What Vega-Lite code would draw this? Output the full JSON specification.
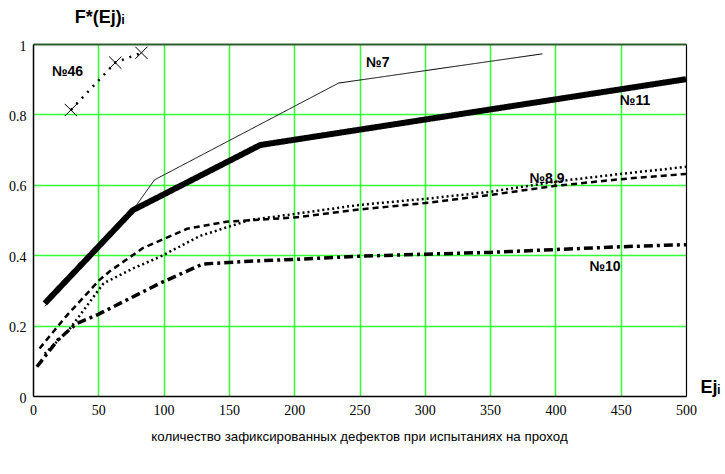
{
  "$schema": "https://vega.github.io/schema/vega-lite/v6.json",
  "width": 653,
  "height": 352,
  "autosize": "none",
  "padding": {"left": 33, "top": 44, "right": 39, "bottom": 78},
  "background": "white",
  "config": {"view": {"stroke": null}, "axis": {"labelFont": "Liberation Serif", "labelFontSize": 14, "labelColor": "black"}},
  "title": {
    "text": "количество зафиксированных дефектов при испытаниях на проход",
    "orient": "bottom",
    "anchor": "middle",
    "frame": "group",
    "offset": 13,
    "font": "Liberation Sans",
    "fontSize": 13.3,
    "fontWeight": "normal",
    "color": "black"
  },
  "datasets": {
    "curves": [
      {"series": "11", "x": 9, "y": 0.263},
      {"series": "11", "x": 76.5, "y": 0.528},
      {"series": "11", "x": 174, "y": 0.713},
      {"series": "11", "x": 500, "y": 0.9},
      {"series": "7", "x": 9, "y": 0.255},
      {"series": "7", "x": 76.5, "y": 0.528},
      {"series": "7", "x": 93, "y": 0.614},
      {"series": "7", "x": 234, "y": 0.889},
      {"series": "7", "x": 390, "y": 0.972},
      {"series": "8", "x": 5, "y": 0.135},
      {"series": "8", "x": 25, "y": 0.225},
      {"series": "8", "x": 51, "y": 0.33},
      {"series": "8", "x": 59, "y": 0.355},
      {"series": "8", "x": 84, "y": 0.42},
      {"series": "8", "x": 118, "y": 0.475},
      {"series": "8", "x": 148, "y": 0.495},
      {"series": "8", "x": 200, "y": 0.507},
      {"series": "8", "x": 250, "y": 0.53},
      {"series": "8", "x": 300, "y": 0.548},
      {"series": "8", "x": 350, "y": 0.571},
      {"series": "8", "x": 400, "y": 0.597},
      {"series": "8", "x": 450, "y": 0.616},
      {"series": "8", "x": 500, "y": 0.631},
      {"series": "9", "x": 9, "y": 0.12},
      {"series": "9", "x": 28, "y": 0.19},
      {"series": "9", "x": 54, "y": 0.32},
      {"series": "9", "x": 77, "y": 0.363},
      {"series": "9", "x": 97, "y": 0.395},
      {"series": "9", "x": 128, "y": 0.455},
      {"series": "9", "x": 166, "y": 0.5},
      {"series": "9", "x": 200, "y": 0.517},
      {"series": "9", "x": 250, "y": 0.543},
      {"series": "9", "x": 300, "y": 0.56},
      {"series": "9", "x": 350, "y": 0.58},
      {"series": "9", "x": 400, "y": 0.609},
      {"series": "9", "x": 450, "y": 0.631},
      {"series": "9", "x": 500, "y": 0.651},
      {"series": "10", "x": 3, "y": 0.083},
      {"series": "10", "x": 19, "y": 0.159},
      {"series": "10", "x": 33, "y": 0.205},
      {"series": "10", "x": 50, "y": 0.232},
      {"series": "10", "x": 97, "y": 0.32},
      {"series": "10", "x": 130, "y": 0.375},
      {"series": "10", "x": 166, "y": 0.383},
      {"series": "10", "x": 200, "y": 0.388},
      {"series": "10", "x": 250, "y": 0.397},
      {"series": "10", "x": 300, "y": 0.403},
      {"series": "10", "x": 350, "y": 0.408},
      {"series": "10", "x": 400, "y": 0.416},
      {"series": "10", "x": 450, "y": 0.424},
      {"series": "10", "x": 500, "y": 0.43},
      {"series": "46", "x": 29, "y": 0.8125},
      {"series": "46", "x": 63, "y": 0.947},
      {"series": "46", "x": 83, "y": 0.975}
    ],
    "labels": [
      {"label": "№46", "x": 26.4, "y": 0.92},
      {"label": "№7", "x": 264, "y": 0.947},
      {"label": "№11", "x": 461, "y": 0.838},
      {"label": "№8,9", "x": 393.6, "y": 0.616},
      {"label": "№10", "x": 438, "y": 0.367}
    ]
  },
  "resolve": {"axis": {"x": "independent", "y": "independent"}},
  "layer": [
    {
      "data": {"name": "curves"},
      "mark": {"type": "line", "color": "black", "strokeCap": "butt"},
      "encoding": {
        "x": {
          "field": "x", "type": "quantitative",
          "scale": {"domain": [0, 500], "nice": false, "zero": false},
          "axis": {
            "orient": "bottom",
            "values": [0, 50, 100, 150, 200, 250, 300, 350, 400, 450, 500],
            "format": "d",
            "grid": false,
            "ticks": false,
            "tickSize": 0,
            "labelPadding": 7,
            "labelFont": "Liberation Serif",
            "labelFontSize": 14,
            "labelColor": "black",
            "labelFlush": false,
            "domainColor": "black",
            "domainWidth": 1.5,
            "title": "Ejᵢ",
            "titleFont": "Liberation Sans",
            "titleFontSize": 18,
            "titleFontWeight": "bold",
            "titleColor": "black",
            "titleAlign": "left",
            "titleBaseline": "middle",
            "titleX": 667,
            "titleY": -9
          }
        },
        "y": {
          "field": "y", "type": "quantitative",
          "scale": {"domain": [0, 1], "nice": false, "zero": false},
          "axis": {
            "orient": "left",
            "values": [0, 0.2, 0.4, 0.6, 0.8, 1],
            "format": "~g",
            "grid": false,
            "ticks": false,
            "tickSize": 0,
            "labelPadding": 7,
            "labelOffset": 2,
            "labelFont": "Liberation Serif",
            "labelFontSize": 14,
            "labelColor": "black",
            "labelFlush": false,
            "domainColor": "black",
            "domainWidth": 1.5,
            "title": "F*(Ej)ᵢ",
            "titleFont": "Liberation Sans",
            "titleFontSize": 18,
            "titleFontWeight": "bold",
            "titleColor": "black",
            "titleAngle": 0,
            "titleAlign": "center",
            "titleBaseline": "middle",
            "titleX": 66,
            "titleY": -27
          }
        },
        "detail": {"field": "series", "type": "nominal"},
        "strokeDash": {
          "field": "series", "type": "nominal",
          "scale": {
            "type": "ordinal",
            "domain": ["11", "7", "8", "9", "10", "46"],
            "range": [[1, 0], [1, 0], [6, 4], [2, 3], [9, 4, 3, 4], [2, 6]]
          },
          "legend": null
        },
        "strokeWidth": {
          "field": "series", "type": "nominal",
          "scale": {
            "type": "ordinal",
            "domain": ["11", "7", "8", "9", "10", "46"],
            "range": [6, 1, 2.5, 2.5, 3.5, 2.5]
          },
          "legend": null
        }
      }
    },
    {
      "data": {"name": "curves"},
      "transform": [{"filter": "datum.series === '46'"}],
      "mark": {
        "type": "point",
        "shape": "M-1,-1L1,1M-1,1L1,-1",
        "filled": false,
        "color": "black",
        "strokeWidth": 1,
        "size": 150,
        "opacity": 1
      },
      "encoding": {
        "x": {
          "field": "x", "type": "quantitative",
          "axis": {
            "orient": "top",
            "values": [50, 100, 150, 200, 250, 300, 350, 400, 450],
            "grid": true,
            "gridColor": "#33ff33",
            "gridWidth": 1.5,
            "gridOpacity": 1,
            "labels": false,
            "ticks": false,
            "domainColor": "#2c5e2c",
            "domainWidth": 2,
            "title": null
          }
        },
        "y": {
          "field": "y", "type": "quantitative",
          "axis": {
            "orient": "right",
            "values": [0.2, 0.4, 0.6, 0.8],
            "grid": true,
            "gridColor": "#33ff33",
            "gridWidth": 1.5,
            "gridOpacity": 1,
            "labels": false,
            "ticks": false,
            "domainColor": "black",
            "domainWidth": 1.2,
            "title": null
          }
        }
      }
    },
    {
      "data": {"name": "labels"},
      "mark": {
        "type": "text",
        "font": "Liberation Sans",
        "fontSize": 14,
        "fontWeight": "bold",
        "color": "black",
        "align": "center",
        "baseline": "middle"
      },
      "encoding": {
        "x": {"field": "x", "type": "quantitative", "axis": null},
        "y": {"field": "y", "type": "quantitative", "axis": null},
        "text": {"field": "label", "type": "nominal"}
      }
    }
  ]
}
